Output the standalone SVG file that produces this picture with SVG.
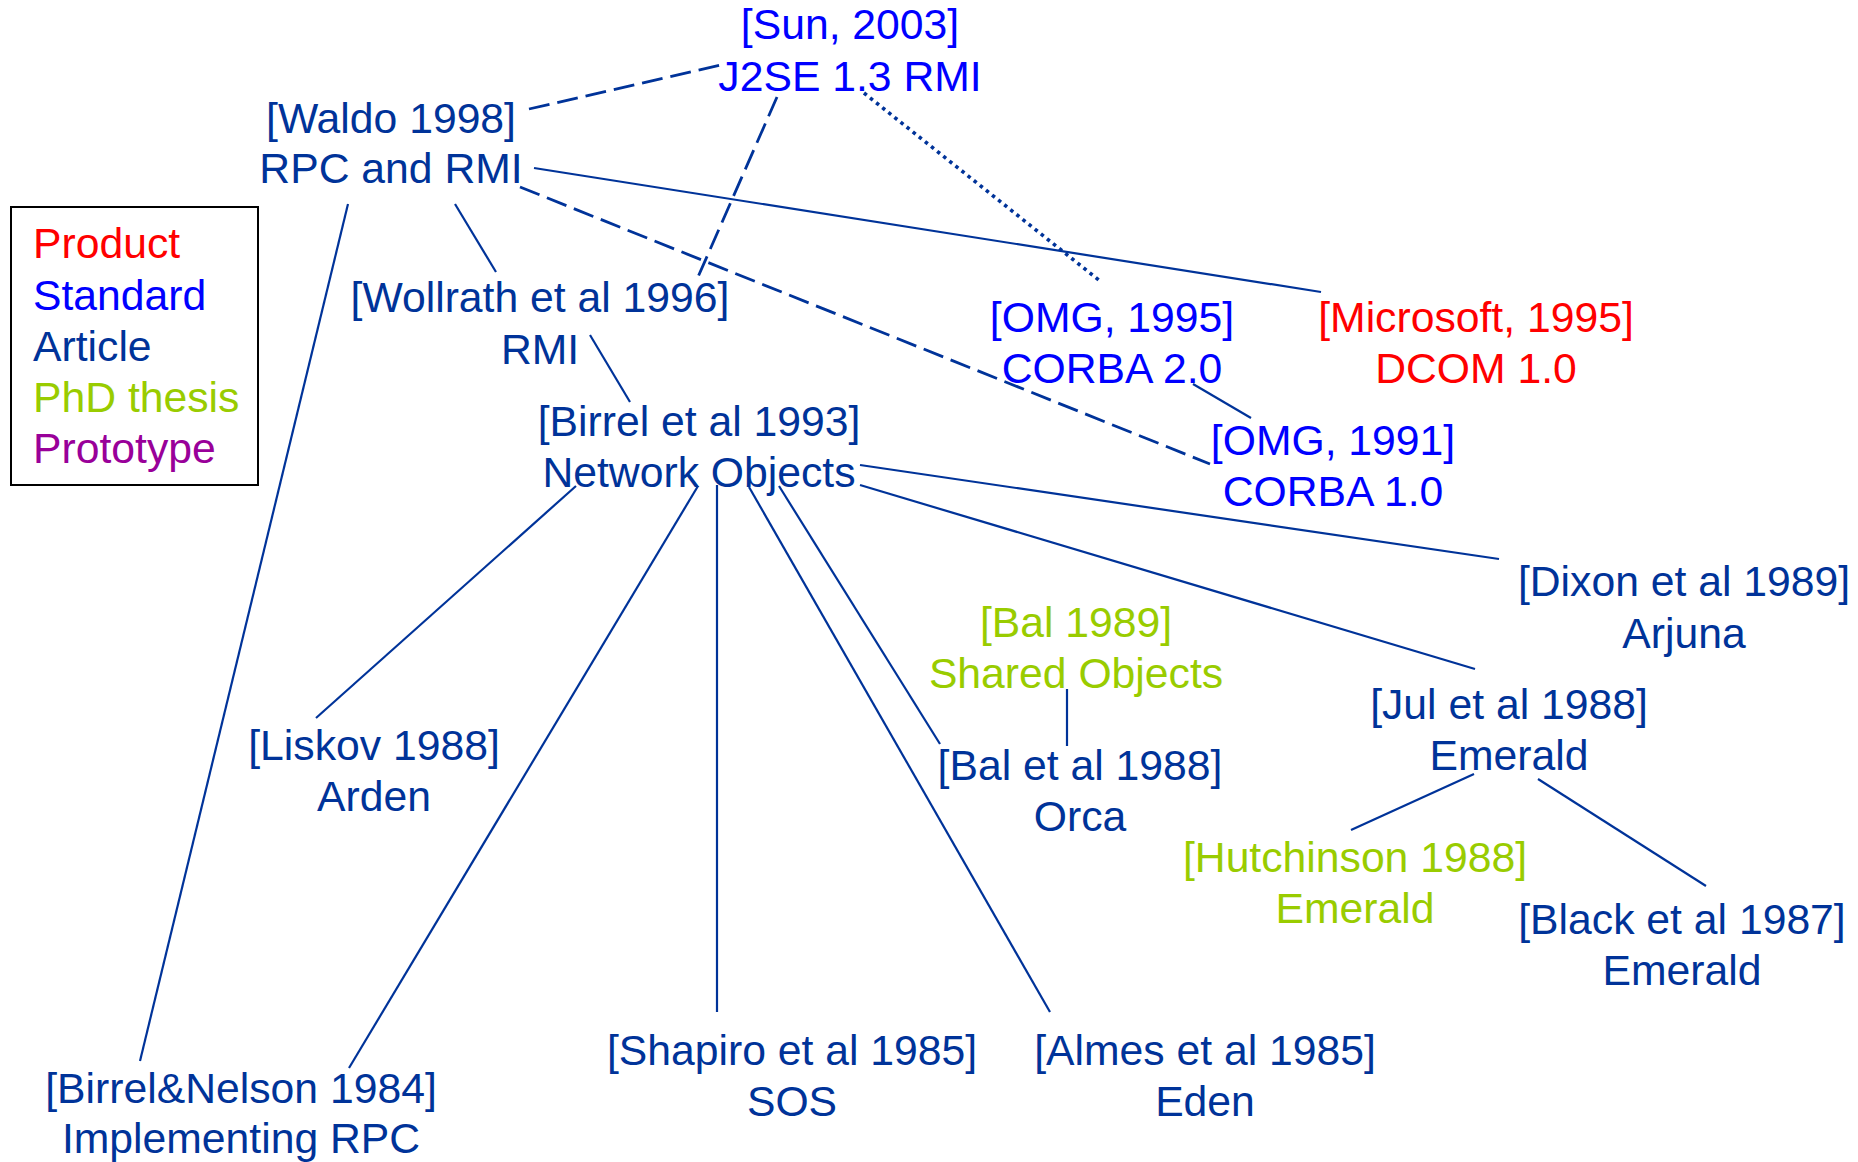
<svg xmlns="http://www.w3.org/2000/svg" width="1858" height="1162" viewBox="0 0 1858 1162">
  <style>
    text { font-family: "Liberation Sans", Arial, sans-serif; font-size: 42.7px; text-anchor: middle; }
    .product { fill: #FF0000; }
    .standard { fill: #0000FF; }
    .article { fill: #003399; }
    .phd { fill: #99CC00; }
    .prototype { fill: #990099; }
    .legend text { text-anchor: start; }
    .edge { stroke: #003399; fill: none; stroke-width: 2.2; }
    .dashed { stroke-width: 2.8; stroke-dasharray: 21 8; }
    .dotted { stroke-width: 3.6; stroke-dasharray: 3.5 4.3; }
  </style>
  <rect width="1858" height="1162" fill="#FFFFFF"/>

  <!-- legend -->
  <g id="legend" class="legend">
    <rect x="11" y="207" width="247" height="278" fill="none" stroke="#000000" stroke-width="2"/>
    <text x="33" y="258" class="product">Product</text>
    <text x="33" y="310" class="standard">Standard</text>
    <text x="33" y="361" class="article">Article</text>
    <text x="33" y="412" class="phd">PhD thesis</text>
    <text x="33" y="463" class="prototype">Prototype</text>
  </g>

  <!-- connectors -->
  <g id="connectors">
    <line class="edge dashed" x1="529" y1="109" x2="721" y2="65"/>
    <line class="edge dashed" x1="777" y1="97" x2="698" y2="277"/>
    <line class="edge dotted" x1="864" y1="93" x2="1100" y2="281"/>
    <line class="edge" x1="534" y1="168" x2="1321" y2="292"/>
    <line class="edge dashed" x1="520" y1="187" x2="1210" y2="464"/>
    <line class="edge" x1="348" y1="204" x2="140" y2="1061"/>
    <line class="edge" x1="455" y1="204" x2="496" y2="272"/>
    <line class="edge" x1="590" y1="335" x2="630" y2="402"/>
    <line class="edge" x1="1193" y1="384" x2="1251" y2="418"/>
    <line class="edge" x1="860" y1="465" x2="1499" y2="559"/>
    <line class="edge" x1="860" y1="485" x2="1475" y2="669"/>
    <line class="edge" x1="576" y1="486" x2="316" y2="718"/>
    <line class="edge" x1="698" y1="486" x2="349" y2="1068"/>
    <line class="edge" x1="717" y1="485" x2="717" y2="1012"/>
    <line class="edge" x1="749" y1="487" x2="1050" y2="1012"/>
    <line class="edge" x1="779" y1="486" x2="940" y2="744"/>
    <line class="edge" x1="1067" y1="689" x2="1067" y2="746"/>
    <line class="edge" x1="1474" y1="774" x2="1351" y2="830"/>
    <line class="edge" x1="1538" y1="779" x2="1706" y2="886"/>
  </g>

  <!-- nodes -->
  <g id="sun2003" class="standard">
    <text x="850" y="39">[Sun, 2003]</text>
    <text x="850" y="91">J2SE 1.3 RMI</text>
  </g>
  <g id="waldo1998" class="article">
    <text x="391" y="133">[Waldo 1998]</text>
    <text x="391" y="183">RPC and RMI</text>
  </g>
  <g id="wollrath1996" class="article">
    <text x="540" y="312">[Wollrath et al 1996]</text>
    <text x="540" y="364">RMI</text>
  </g>
  <g id="omg1995" class="standard">
    <text x="1112" y="332">[OMG, 1995]</text>
    <text x="1112" y="383">CORBA 2.0</text>
  </g>
  <g id="microsoft1995" class="product">
    <text x="1476" y="332">[Microsoft, 1995]</text>
    <text x="1476" y="383">DCOM 1.0</text>
  </g>
  <g id="birrel1993" class="article">
    <text x="699" y="436">[Birrel et al 1993]</text>
    <text x="699" y="487">Network Objects</text>
  </g>
  <g id="omg1991" class="standard">
    <text x="1333" y="455">[OMG, 1991]</text>
    <text x="1333" y="506">CORBA 1.0</text>
  </g>
  <g id="dixon1989" class="article">
    <text x="1684" y="596">[Dixon et al 1989]</text>
    <text x="1684" y="648">Arjuna</text>
  </g>
  <g id="bal1989" class="phd">
    <text x="1076" y="637">[Bal 1989]</text>
    <text x="1076" y="688">Shared Objects</text>
  </g>
  <g id="jul1988" class="article">
    <text x="1509" y="719">[Jul et al 1988]</text>
    <text x="1509" y="770">Emerald</text>
  </g>
  <g id="liskov1988" class="article">
    <text x="374" y="760">[Liskov 1988]</text>
    <text x="374" y="811">Arden</text>
  </g>
  <g id="bal1988" class="article">
    <text x="1080" y="780">[Bal et al 1988]</text>
    <text x="1080" y="831">Orca</text>
  </g>
  <g id="hutchinson1988" class="phd">
    <text x="1355" y="872">[Hutchinson 1988]</text>
    <text x="1355" y="923">Emerald</text>
  </g>
  <g id="black1987" class="article">
    <text x="1682" y="934">[Black et al 1987]</text>
    <text x="1682" y="985">Emerald</text>
  </g>
  <g id="shapiro1985" class="article">
    <text x="792" y="1065">[Shapiro et al 1985]</text>
    <text x="792" y="1116">SOS</text>
  </g>
  <g id="almes1985" class="article">
    <text x="1205" y="1065">[Almes et al 1985]</text>
    <text x="1205" y="1116">Eden</text>
  </g>
  <g id="birrelnelson1984" class="article">
    <text x="241" y="1103">[Birrel&amp;Nelson 1984]</text>
    <text x="241" y="1153">Implementing RPC</text>
  </g>
</svg>
